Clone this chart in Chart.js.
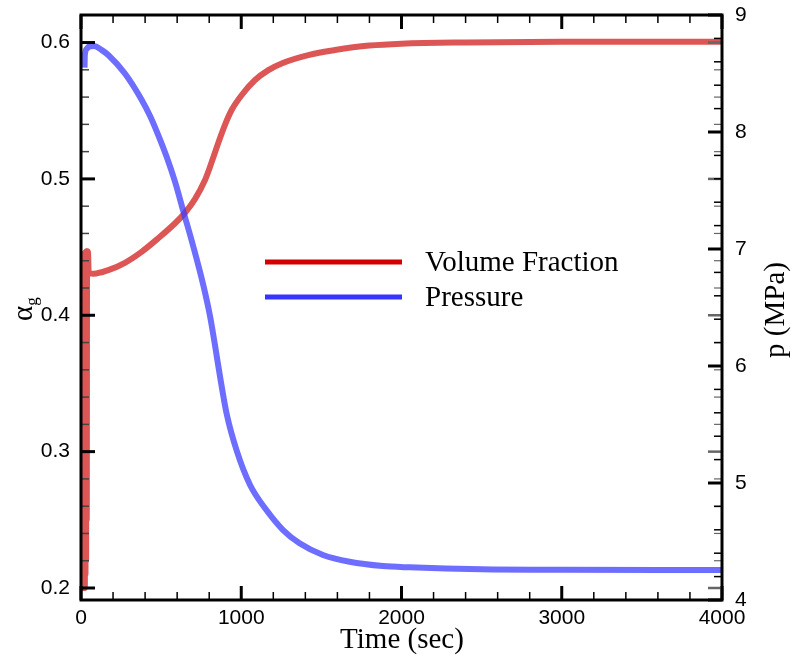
<!DOCTYPE html>
<html>
<head>
<meta charset="utf-8">
<title>Volume fraction and pressure</title>
<script src="https://cdn.jsdelivr.net/npm/chart.js@4.4.1/dist/chart.umd.min.js"></script>
<style>
  html, body { margin: 0; padding: 0; background: #fff; }
  #wrap { width: 792px; height: 658px; }
</style>
</head>
<body>
<div id="wrap"><canvas id="historyChart" width="792" height="658"></canvas></div>
<script>
// gas volume fraction history (left axis)
const alphaTime = [4, 6, 8, 10, 12, 14, 16, 18, 20, 22, 24, 26, 28, 30, 32, 34, 36, 38, 40, 44, 48,
  80, 170, 274, 378, 482, 587, 649, 711, 774, 816, 857, 899, 940, 1003, 1086, 1169, 1252, 1418, 1585, 1800, 2000, 2400, 3000, 4000];
const alphaValues = [0.20, 0.44, 0.20, 0.44, 0.20, 0.445, 0.20, 0.445, 0.20, 0.445, 0.20, 0.446, 0.21, 0.446, 0.22, 0.447, 0.25, 0.447, 0.447, 0.446, 0.431,
  0.4305, 0.4331, 0.4385, 0.4465, 0.4565, 0.4675, 0.4752, 0.4852, 0.4992, 0.5125, 0.5265, 0.5398, 0.5505, 0.5615, 0.5725, 0.5798, 0.5847, 0.5908, 0.5945, 0.5978, 0.5992, 0.6001, 0.6005, 0.6006];

// pressure history in MPa (right axis)
const pressureTime = [22, 24, 35, 50, 80, 130, 170, 274, 379, 431, 482, 535, 587, 638, 701, 763, 805, 836, 868, 909, 972,
  1055, 1157, 1261, 1364, 1510, 1676, 1884, 2050, 2500, 3000, 4000];
const pressureValues = [8.55, 8.66, 8.71, 8.73, 8.735, 8.70, 8.658, 8.50, 8.274, 8.137, 7.974, 7.786, 7.573, 7.325, 7.02, 6.692, 6.427, 6.179, 5.906, 5.59, 5.274,
  4.983, 4.769, 4.598, 4.485, 4.385, 4.327, 4.29, 4.279, 4.262, 4.258, 4.256];

const timeTicks = [0, 1000, 2000, 3000, 4000];
const alphaTicks = [0.2, 0.3, 0.4, 0.5, 0.6];
const pressureTicks = [4, 5, 6, 7, 8, 9];

const seriesNames = ['Volume Fraction', 'Pressure'];
const seriesColors = ['#d40000', '#3535ff'];

const SANS = '"Liberation Sans", Arial, sans-serif';
const SERIF = '"Liberation Serif", "Times New Roman", serif';

const toPoints = (xs, ys) => xs.map((x, i) => ({ x: x, y: ys[i] }));

// keep the plot box where the layout padding puts it
const noEdgePadding = (s) => {
  s.paddingTop = 0;
  s.paddingBottom = 0;
  s.paddingLeft = 0;
  s.paddingRight = 0;
};

// frame box with inward ticks on every side
const frameTicks = {
  id: 'frameTicks',
  afterDatasetsDraw(chart) {
    const { ctx, chartArea: a, scales } = chart;
    const line = (x1, y1, x2, y2, w, c) => {
      ctx.beginPath();
      ctx.lineWidth = w;
      ctx.strokeStyle = c;
      ctx.moveTo(x1, y1);
      ctx.lineTo(x2, y2);
      ctx.stroke();
    };
    ctx.save();
    ctx.lineCap = 'butt';

    // time ticks, bottom and top
    for (let i = 0; i <= 20; i++) {
      const px = scales.x.getPixelForValue(i * 200);
      const major = i % 5 === 0;
      const len = major ? 14 : 8;
      const w = major ? 3 : 1.5;
      line(px, a.bottom, px, a.bottom - len, w, '#000');
      line(px, a.top, px, a.top + len, w, '#000');
    }
    // alpha ticks, left and mirrored right
    for (let i = 10; i <= 30; i++) {
      const py = scales.y.getPixelForValue(i * 0.02);
      const major = i % 5 === 0;
      const len = major ? 14 : 8;
      line(a.left, py, a.left + len, py, major ? 3 : 1.5, major ? '#000' : '#444');
      line(a.right, py, a.right - len, py, major ? 2.5 : 1.2, '#666');
    }
    // pressure ticks, right
    for (let i = 20; i <= 45; i++) {
      const py = scales.y1.getPixelForValue(i * 0.2);
      const major = i % 5 === 0;
      const len = major ? 14 : 8;
      line(a.right, py, a.right - len, py, major ? 3 : 1.5, '#000');
    }

    ctx.lineWidth = 3;
    ctx.strokeStyle = '#000';
    ctx.strokeRect(a.left, a.top, a.right - a.left, a.bottom - a.top);
    ctx.restore();
  }
};

// axis titles and the in-plot legend
const titlesLegend = {
  id: 'titlesLegend',
  afterDraw(chart) {
    const { ctx } = chart;
    ctx.save();
    ctx.fillStyle = '#000';
    ctx.textBaseline = 'middle';

    ctx.font = '29px ' + SERIF;
    ctx.textAlign = 'center';
    ctx.fillText('Time (sec)', 402, 640);

    // right title, reading upwards
    ctx.save();
    ctx.translate(776, 310);
    ctx.rotate(-Math.PI / 2);
    ctx.fillText('p (MPa)', 0, 0);
    ctx.restore();

    // alpha with subscript g
    ctx.save();
    ctx.translate(24, 312);
    ctx.rotate(-Math.PI / 2);
    ctx.textAlign = 'left';
    ctx.font = '29px ' + SERIF;
    ctx.fillText('\u03b1', -9, 0);
    const aw = ctx.measureText('\u03b1').width;
    ctx.font = '17px ' + SERIF;
    ctx.fillText('g', -9 + aw, 9);
    ctx.restore();

    // legend
    const rows = [262, 297];
    ctx.font = '29px ' + SERIF;
    ctx.textAlign = 'left';
    rows.forEach((y, i) => {
      ctx.beginPath();
      ctx.lineWidth = 5;
      ctx.strokeStyle = seriesColors[i];
      ctx.moveTo(265, y);
      ctx.lineTo(402, y);
      ctx.stroke();
      ctx.fillText(seriesNames[i], 425, y + 1);
    });
    ctx.restore();
  }
};

window.addEventListener('DOMContentLoaded', () => {
  const canvas = document.getElementById('historyChart');

  new Chart(canvas, {
    type: 'line',
    data: {
      datasets: [
        {
          label: seriesNames[1],
          data: toPoints(pressureTime, pressureValues),
          yAxisID: 'y1',
          borderColor: 'rgba(60, 60, 255, 0.75)',
          borderWidth: 6,
          pointRadius: 0,
          cubicInterpolationMode: 'monotone',
          order: 0
        },
        {
          label: seriesNames[0],
          data: toPoints(alphaTime, alphaValues),
          yAxisID: 'y',
          borderColor: 'rgba(210, 30, 30, 0.75)',
          borderWidth: 6,
          pointRadius: 0,
          cubicInterpolationMode: 'monotone',
          order: 1
        }
      ]
    },
    options: {
      responsive: false,
      animation: false,
      events: [],
      layout: { padding: { top: 15, left: 0, right: 0, bottom: 0 } },
      plugins: {
        legend: { display: false },
        tooltip: { enabled: false }
      },
      scales: {
        x: {
          type: 'linear',
          position: 'bottom',
          min: 0,
          max: 4000,
          grid: { display: false, drawTicks: false },
          border: { display: false },
          afterBuildTicks: (s) => { s.ticks = timeTicks.map((v) => ({ value: v })); },
          afterFit: (s) => { s.height = 58; noEdgePadding(s); },
          ticks: {
            padding: 6,
            maxRotation: 0,
            color: '#000',
            font: { family: SANS, size: 21 },
            callback: (v) => String(v)
          }
        },
        y: {
          type: 'linear',
          position: 'left',
          min: 0.1912,
          max: 0.6202,
          grid: { display: false, drawTicks: false },
          border: { display: false },
          afterBuildTicks: (s) => { s.ticks = alphaTicks.map((v) => ({ value: v })); },
          afterFit: (s) => { s.width = 81; noEdgePadding(s); },
          ticks: {
            padding: 11,
            color: '#000',
            font: { family: SANS, size: 21 },
            callback: (v) => v.toFixed(1)
          }
        },
        y1: {
          type: 'linear',
          position: 'right',
          min: 4,
          max: 9,
          grid: { display: false, drawTicks: false },
          border: { display: false },
          afterBuildTicks: (s) => { s.ticks = pressureTicks.map((v) => ({ value: v })); },
          afterFit: (s) => { s.width = 70; noEdgePadding(s); },
          ticks: {
            padding: 13,
            color: '#000',
            font: { family: SANS, size: 21 },
            callback: (v) => String(v)
          }
        }
      }
    },
    plugins: [frameTicks, titlesLegend]
  });
});
</script>
</body>
</html>
